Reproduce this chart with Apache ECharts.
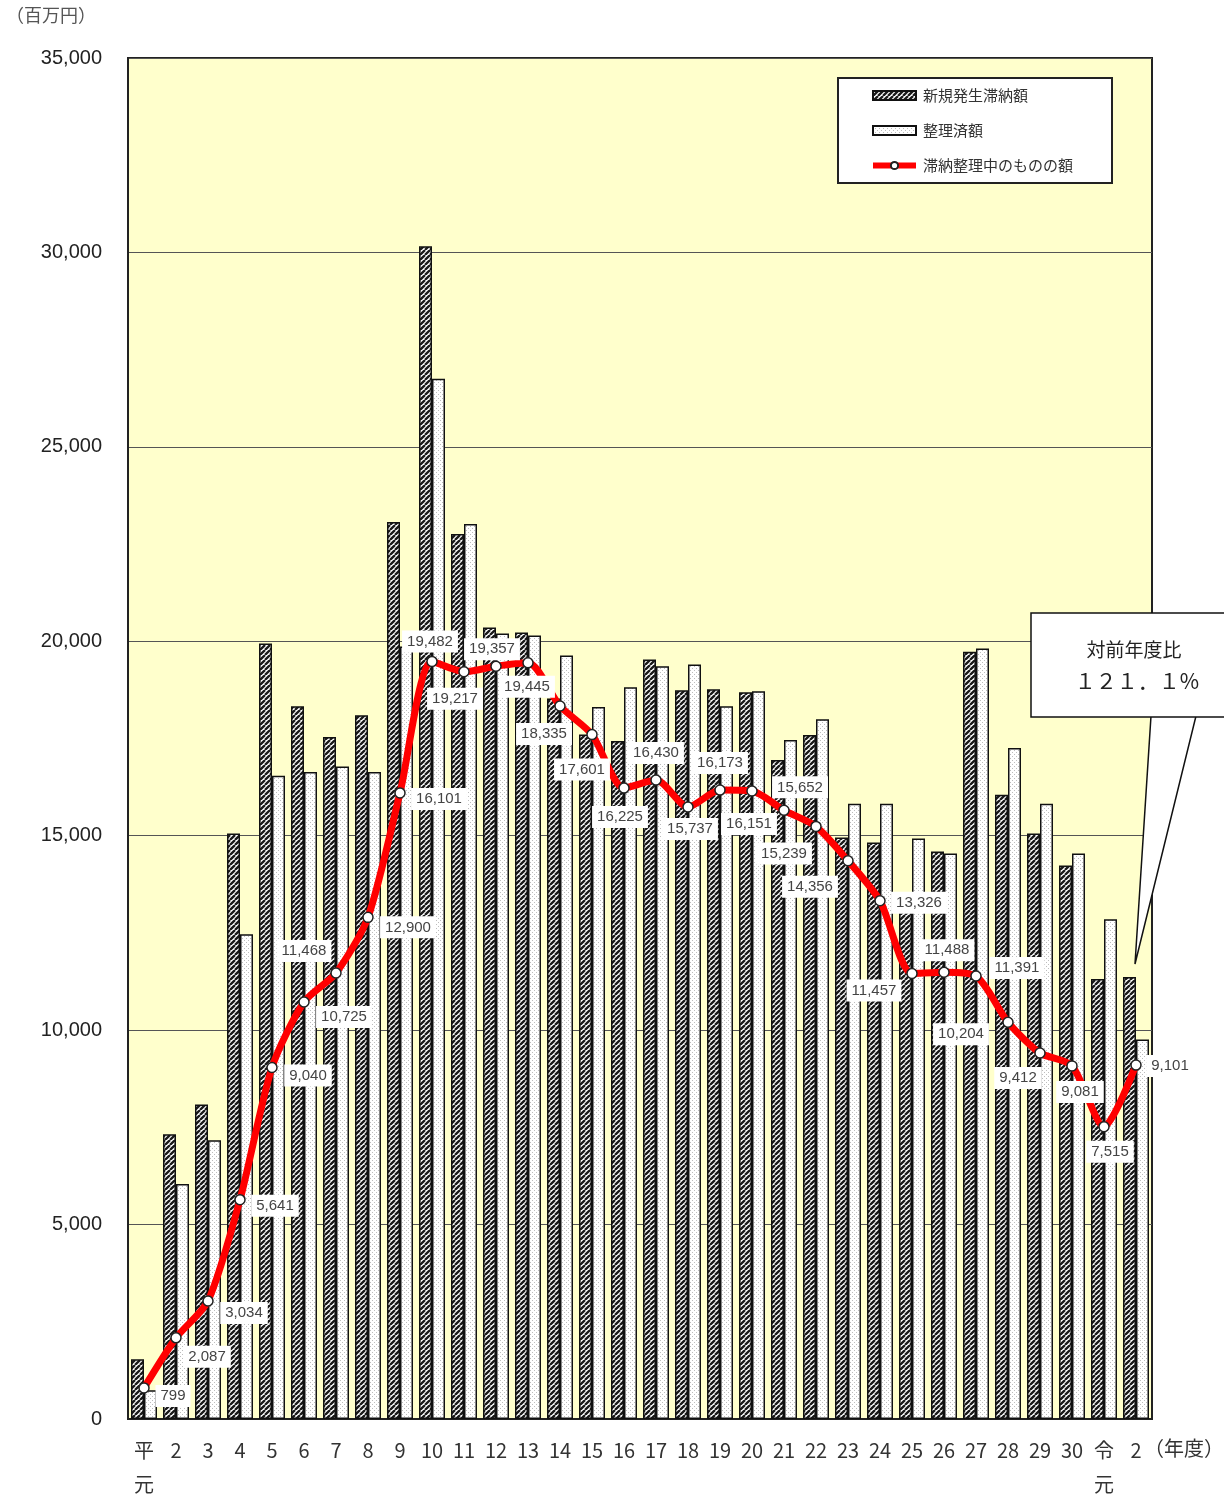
<!DOCTYPE html>
<html>
<head>
<meta charset="utf-8">
<script src="https://cdn.jsdelivr.net/npm/echarts@6/dist/echarts.min.js"></script>
<style>
html,body{margin:0;padding:0;background:#fff;}
#c{width:1224px;height:1501px;}
</style>
</head>
<body>
<div id="c"></div>
<script>
// ---- data ----
const categories = ['平\n元','2','3','4','5','6','7','8','9','10','11','12','13','14','15','16','17','18','19','20','21','22','23','24','25','26','27','28','29','30','令\n元','2'];
const newArrears = [1536, 7322, 8090, 15054, 19944, 18330, 17537, 18100, 23067, 30159, 22760, 20353, 20225, 18526, 17600, 17435, 19534, 18740, 18766, 18689, 16948, 17588, 14952, 14823, 13057, 14593, 19730, 16052, 15060, 14234, 11316, 11367];
const processed = [740, 6042, 7168, 12468, 16539, 16641, 16780, 16641, 19866, 26754, 23016, 20200, 20148, 19636, 18310, 18817, 19355, 19406, 18331, 18715, 17460, 17998, 15822, 15822, 14926, 14542, 19816, 17255, 15822, 14542, 12852, 9760];
const remaining = [799, 2087, 3034, 5641, 9040, 10725, 11468, 12900, 16101, 19482, 19217, 19357, 19445, 18335, 17601, 16225, 16430, 15737, 16173, 16151, 15652, 15239, 14356, 13326, 11457, 11488, 11391, 10204, 9412, 9081, 7515, 9101];
const seriesNames = ['新規発生滞納額', '整理済額', '滞納整理中のものの額'];
const yTicks = [0, 5000, 10000, 15000, 20000, 25000, 30000, 35000];
// label placement (pixel offsets from each point) - layout only
const labelOffsets = [[29,8],[31,19],[36,12],[35,6],[36,8],[40,15],[-32,-22],[40,10],[39,6],[-2,-20],[-9,27],[-4,-17],[-1,24],[-16,28],[-10,35],[-4,29],[0,-27],[2,22],[0,-27],[-3,33],[16,-23],[-32,27],[-38,26],[39,2],[-38,17],[3,-22],[41,-8],[-47,12],[-22,25],[8,26],[6,25],[34,1]];

function fmt(v){ return String(v).replace(/\B(?=(\d{3})+(?!\d))/g, ','); }

function hatchPattern(){
  const s = 5;
  const c = document.createElement('canvas'); c.width = s; c.height = s;
  const g = c.getContext('2d');
  g.fillStyle = '#ffffff'; g.fillRect(0,0,s,s);
  g.strokeStyle = '#1a1a1a'; g.lineWidth = 2.3;
  g.beginPath();
  for (let k = -s; k <= 2*s; k += s){ g.moveTo(k, s); g.lineTo(k + s, 0); }
  g.stroke();
  return c;
}
function dotPattern(){
  const c = document.createElement('canvas'); c.width = 4; c.height = 4;
  const g = c.getContext('2d');
  g.fillStyle = '#ffffff'; g.fillRect(0,0,4,4);
  g.fillStyle = '#bdbdbd';
  g.fillRect(0,0,1,1); g.fillRect(2,2,1,1);
  return c;
}

const FONT = '"Liberation Sans", "Noto Sans CJK JP", sans-serif';
const JFONT = '"Noto Sans CJK JP", "Liberation Sans", sans-serif';

const chart = echarts.init(document.getElementById('c'), null, {renderer:'canvas'});

const option = {
  animation: false,
  backgroundColor: '#ffffff',
  grid: {
    left: 128, right: 72, top: 58, bottom: 76,
    show: true, backgroundColor: '#FFFFCC', borderColor: '#222', borderWidth: 2
  },
  legend: {
    orient: 'vertical', left: 838, top: 78,
    backgroundColor: '#ffffff', borderColor: '#222', borderWidth: 2,
    padding: [10, 39, 10, 32],
    itemWidth: 43, itemHeight: 9, itemGap: 20,
    textStyle: { fontFamily: JFONT, fontSize: 15, color: '#333', padding: [0,0,0,2] },
    data: [
      { name: seriesNames[0], icon: 'rect' },
      { name: seriesNames[1], icon: 'rect' },
      { name: seriesNames[2], lineStyle: { width: 6, color: '#ff0000' } }
    ]
  },
  xAxis: {
    type: 'category', data: categories,
    axisLine: { show: true, lineStyle: { color: '#222', width: 2 } },
    axisTick: { show: false },
    axisLabel: { fontFamily: JFONT, fontSize: 20, color: '#333', margin: 14, lineHeight: 34, interval: 0 },
    splitLine: { show: false }
  },
  yAxis: {
    type: 'value', min: 0, max: 35000, interval: 5000,
    axisLine: { show: true, lineStyle: { color: '#222', width: 2 } },
    axisTick: { show: false },
    axisLabel: { fontFamily: FONT, fontSize: 20, color: '#222', margin: 26,
      formatter: v => yTicks.indexOf(v) >= 0 ? fmt(v) : '' },
    splitLine: { show: true, lineStyle: { color: '#555', width: 1 } }
  },
  series: [
    {
      name: seriesNames[0], type: 'bar', data: newArrears,
      barWidth: 13, barGap: '0%',
      itemStyle: { color: { image: hatchPattern(), repeat: 'repeat' }, borderColor: '#111', borderWidth: 1.5 },
      z: 2
    },
    {
      name: seriesNames[1], type: 'bar', data: processed,
      barWidth: 13, barGap: '0%',
      itemStyle: { color: { image: dotPattern(), repeat: 'repeat' }, borderColor: '#111', borderWidth: 1.5 },
      z: 2
    },
    {
      name: seriesNames[2], type: 'line', data: remaining,
      smooth: 0.25,
      symbol: 'circle', symbolSize: 10, showAllSymbol: true,
      lineStyle: { color: '#ff0000', width: 7 },
      itemStyle: { color: '#ffffff', borderColor: '#222', borderWidth: 1.5 },
      z: 5,
      label: {
        show: true, position: 'inside',
        formatter: p => fmt(p.value),
        fontFamily: FONT, fontSize: 15, color: '#444',
        backgroundColor: '#ffffff', padding: [4, 5, 3, 5]
      },
      labelLayout: p => ({ dx: labelOffsets[p.dataIndex][0], dy: labelOffsets[p.dataIndex][1], hideOverlap: false })
    }
  ],
  graphic: [
    { type: 'text', left: 6, top: 6, z: 10,
      style: { text: '（百万円）', fontFamily: JFONT, fontSize: 18, fill: '#555' } },
    { type: 'text', left: 1144, top: 1438, z: 10,
      style: { text: '（年度）', fontFamily: JFONT, fontSize: 20, fill: '#333' } },
    { type: 'polygon', z: 20,
      shape: { points: [[1151, 716], [1135, 964], [1196, 716]] },
      style: { fill: '#ffffff', stroke: '#111', lineWidth: 1.5 } },
    { type: 'rect', z: 21,
      shape: { x: 1031, y: 613, width: 210, height: 104 },
      style: { fill: '#ffffff', stroke: '#111', lineWidth: 1.5 } },
    { type: 'text', z: 22, x: 1134, y: 650,
      style: { text: '対前年度比', fontFamily: JFONT, fontSize: 19, fill: '#222', align: 'center', verticalAlign: 'middle' } },
    { type: 'text', z: 22, x: 1137, y: 681,
      style: { text: '１２１．１%', fontFamily: JFONT, fontSize: 21, fill: '#222', align: 'center', verticalAlign: 'middle' } }
  ]
};
chart.setOption(option);
</script>
</body>
</html>
